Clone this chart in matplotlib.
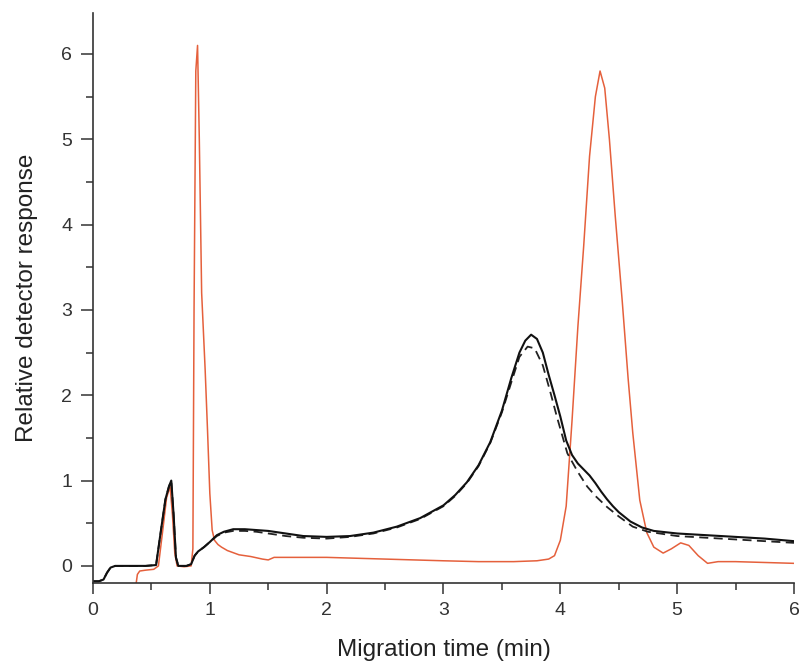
import matplotlib.pyplot as plt
from matplotlib.ticker import MultipleLocator

plt.rcParams['font.family'] = ['Liberation Sans', 'DejaVu Sans']

# solid black trace
black_t = [0, 0.05, 0.09, 0.12, 0.15, 0.19, 0.3, 0.45, 0.54, 0.58, 0.62, 0.65, 0.67,
           0.69, 0.71, 0.73, 0.8, 0.84, 0.87, 0.9, 0.95, 1.0, 1.06, 1.12, 1.2, 1.3,
           1.4, 1.5, 1.65, 1.8, 2.0, 2.2, 2.4, 2.6, 2.8, 3.0, 3.1, 3.2, 3.3, 3.4,
           3.5, 3.58, 3.65, 3.7, 3.75, 3.8, 3.85, 3.9, 3.95, 4.0, 4.05, 4.1, 4.15,
           4.2, 4.25, 4.3, 4.35, 4.4, 4.45, 4.5, 4.6, 4.7, 4.8, 5.0, 5.25, 5.5,
           5.75, 6.0]
black_r = [-0.18, -0.18, -0.16, -0.08, -0.02, 0.0, 0.0, 0.0, 0.01, 0.4, 0.78, 0.93,
           1.0, 0.6, 0.1, 0.0, 0.0, 0.02, 0.12, 0.17, 0.22, 0.28, 0.36, 0.4, 0.43,
           0.43, 0.42, 0.41, 0.38, 0.35, 0.34, 0.35, 0.39, 0.46, 0.56, 0.71, 0.83,
           0.98, 1.18, 1.45, 1.82, 2.2, 2.5, 2.64, 2.71, 2.66, 2.5, 2.24, 2.0, 1.75,
           1.47, 1.3, 1.2, 1.13, 1.06, 0.97, 0.87, 0.78, 0.7, 0.63, 0.52, 0.45,
           0.41, 0.38, 0.36, 0.34, 0.32, 0.29]

# dashed black trace
dash_t = [0, 0.05, 0.09, 0.12, 0.15, 0.19, 0.3, 0.45, 0.54, 0.58, 0.62, 0.65, 0.67,
          0.69, 0.71, 0.73, 0.8, 0.84, 0.87, 0.9, 0.95, 1.0, 1.06, 1.12, 1.2, 1.3,
          1.4, 1.5, 1.65, 1.8, 2.0, 2.2, 2.4, 2.6, 2.8, 3.0, 3.1, 3.2, 3.3, 3.4,
          3.5, 3.58, 3.65, 3.72, 3.78, 3.85, 3.91, 3.97, 4.06, 4.15, 4.23, 4.3,
          4.4, 4.5, 4.62, 4.75, 5.0, 5.25, 5.5, 5.75, 6.0]
dash_r = [-0.18, -0.18, -0.16, -0.08, -0.02, 0.0, 0.0, 0.0, 0.01, 0.4, 0.78, 0.93,
          1.0, 0.6, 0.1, 0.0, 0.0, 0.02, 0.12, 0.17, 0.22, 0.28, 0.35, 0.39, 0.41,
          0.41, 0.4, 0.38, 0.35, 0.33, 0.32, 0.34, 0.38, 0.45, 0.55, 0.7, 0.82,
          0.97, 1.17, 1.44, 1.8, 2.15, 2.45, 2.57, 2.55, 2.35, 2.06, 1.75, 1.32,
          1.1, 0.93, 0.82, 0.69, 0.58, 0.46, 0.4, 0.35, 0.33, 0.31, 0.29, 0.27]

# orange trace
orange_t = [0.37, 0.38, 0.4, 0.45, 0.52, 0.56, 0.6, 0.63, 0.66, 0.68, 0.7, 0.72,
            0.78, 0.84, 0.855, 0.865, 0.88, 0.895, 0.91, 0.93, 0.96, 0.98, 1.0,
            1.02, 1.04, 1.07, 1.1, 1.15, 1.25, 1.35, 1.45, 1.5, 1.55, 1.7, 2.0,
            2.5, 3.0, 3.3, 3.6, 3.8, 3.9, 3.95, 4.0, 4.05, 4.1, 4.15, 4.2, 4.25,
            4.3, 4.34, 4.38, 4.42, 4.47, 4.53, 4.58, 4.62, 4.68, 4.74, 4.8, 4.88,
            4.95, 5.03, 5.1, 5.18, 5.26, 5.35, 5.5, 5.75, 6.0]
orange_r = [-0.2, -0.1, -0.06, -0.05, -0.04, 0.0, 0.45, 0.8, 0.93, 0.6, 0.15, 0.0,
            -0.01, 0.0, 0.2, 3.0, 5.8, 6.1, 5.0, 3.2, 2.3, 1.6, 0.85, 0.42, 0.3,
            0.25, 0.22, 0.18, 0.13, 0.11, 0.08, 0.07, 0.1, 0.1, 0.1, 0.08, 0.06,
            0.05, 0.05, 0.06, 0.08, 0.12, 0.3, 0.7, 1.7, 2.8, 3.75, 4.8, 5.5, 5.8,
            5.6, 5.0, 4.1, 3.1, 2.2, 1.56, 0.77, 0.39, 0.22, 0.15, 0.2, 0.27, 0.24,
            0.12, 0.03, 0.05, 0.05, 0.04, 0.03]

fig = plt.figure(figsize=(8.03, 6.70), dpi=100)
ax = fig.add_axes([0.1158, 0.1299, 0.8730, 0.8507])

ax.plot(orange_t, orange_r, color='#e5603c', lw=1.1)
ax.plot(dash_t, dash_r, color='#222222', lw=1.3, ls=(0, (5, 3)))
ax.plot(black_t, black_r, color='#111111', lw=1.5)

ax.set_xlim(0, 6)
ax.set_ylim(-0.2, 6.48)
ax.xaxis.set_major_locator(MultipleLocator(1))
ax.xaxis.set_minor_locator(MultipleLocator(0.5))
ax.yaxis.set_major_locator(MultipleLocator(1))
ax.yaxis.set_minor_locator(MultipleLocator(0.5))
ax.tick_params(which='major', direction='out', length=8, width=1.1, labelsize=14,
               colors='#333333', pad=6)
ax.tick_params(which='minor', direction='out', length=5, width=1.1, colors='#333333')
ax.tick_params(axis='y', which='major', length=9)

for s in ['top', 'right']:
    ax.spines[s].set_visible(False)
for s in ['left', 'bottom']:
    ax.spines[s].set_linewidth(1.2)
    ax.spines[s].set_color('#333333')

ax.set_xlabel('Migration time (min)', fontsize=17.5, color='#222222', labelpad=14)
ax.set_ylabel('Relative detector response', fontsize=17.5, color='#222222', labelpad=17)

fig.savefig('out.png', dpi=100)
